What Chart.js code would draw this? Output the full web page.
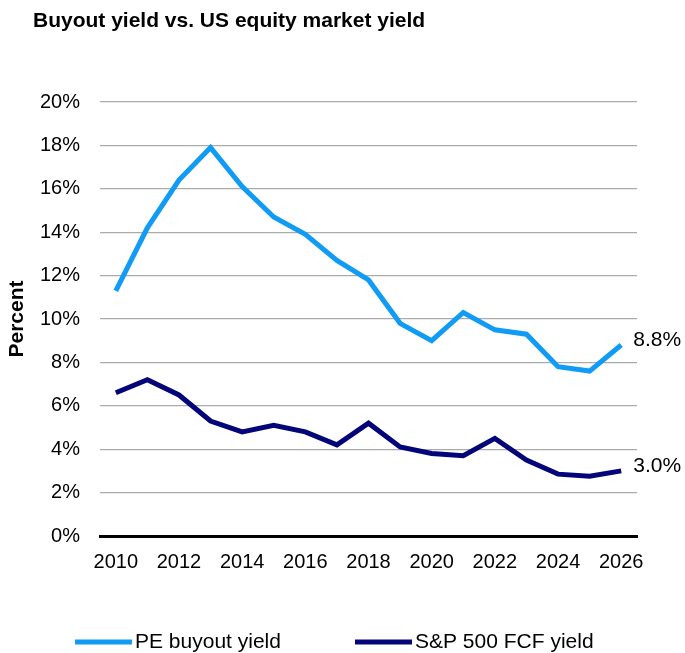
<!DOCTYPE html>
<html>
<head>
<meta charset="utf-8">
<title>Buyout yield vs. US equity market yield</title>
<script src="https://cdn.jsdelivr.net/npm/chart.js@4/dist/chart.umd.min.js"></script>
<style>
  html, body { margin: 0; padding: 0; background: #ffffff; }
  canvas { display: block; }
</style>
</head>
<body>
<canvas id="chart" width="685" height="653"></canvas>
<script>
// Years on the x axis
const years = ['2010','2011','2012','2013','2014','2015','2016','2017','2018',
               '2019','2020','2021','2022','2023','2024','2025','2026'];
// Only every other year gets a tick label
const labelledYears = ['2010','2012','2014','2016','2018','2020','2022','2024','2026'];

// Yields, percent
const peBuyoutYield = [11.3, 14.2, 16.4, 17.9, 16.1, 14.7, 13.9, 12.7, 11.8,
                       9.8, 9.0, 10.3, 9.5, 9.3, 7.8, 7.6, 8.8];
const spFcfYield    = [6.6, 7.2, 6.5, 5.3, 4.8, 5.1, 4.8, 4.2, 5.2,
                       4.1, 3.8, 3.7, 4.5, 3.5, 2.85, 2.75, 3.0];

const seriesNames = ['PE buyout yield', 'S&P 500 FCF yield'];
const seriesColors = ['#109cf4', '#05057a'];

const FONT = '"Liberation Sans", Arial, Helvetica, sans-serif';
Chart.defaults.font.family = FONT;
Chart.defaults.color = '#000000';

// Title, end-of-line value labels and the legend row
const annotations = {
  id: 'annotations',
  afterDraw(chart) {
    const ctx = chart.ctx;
    ctx.save();

    // heading
    ctx.fillStyle = '#000';
    ctx.font = 'bold 21px ' + FONT;
    ctx.textAlign = 'left';
    ctx.textBaseline = 'alphabetic';
    ctx.fillText('Buyout yield vs. US equity market yield', 33, 27);

    // last value of each line
    ctx.font = '21px ' + FONT;
    ctx.textBaseline = 'middle';
    chart.data.datasets.forEach((ds, i) => {
      const meta = chart.getDatasetMeta(i);
      const last = meta.data[meta.data.length - 1];
      const v = ds.data[ds.data.length - 1];
      ctx.fillText(v.toFixed(1) + '%', last.x + 12, last.y - 5);
    });

    // legend
    const legendY = 642;
    const starts = [75, 355];
    chart.data.datasets.forEach((ds, i) => {
      const x0 = starts[i];
      ctx.strokeStyle = ds.borderColor;
      ctx.lineWidth = 5;
      ctx.lineCap = 'butt';
      ctx.beginPath();
      ctx.moveTo(x0, legendY);
      ctx.lineTo(x0 + 57, legendY);
      ctx.stroke();
      ctx.fillStyle = '#000';
      ctx.font = '21px ' + FONT;
      ctx.textBaseline = 'middle';
      ctx.fillText(ds.label, x0 + 60, legendY);
    });

    ctx.restore();
  }
};

new Chart(document.getElementById('chart'), {
  type: 'line',
  data: {
    labels: years,
    datasets: [
      { label: seriesNames[0], data: peBuyoutYield, borderColor: seriesColors[0] },
      { label: seriesNames[1], data: spFcfYield, borderColor: seriesColors[1] }
    ]
  },
  options: {
    responsive: false,
    animation: false,
    devicePixelRatio: 1,
    layout: { padding: { top: 102, right: 48, bottom: 0, left: 0 } },
    elements: {
      line: { borderWidth: 5, tension: 0, fill: false, borderJoinStyle: 'miter', borderCapStyle: 'butt' },
      point: { radius: 0, hoverRadius: 0 }
    },
    plugins: {
      legend: { display: false },
      title: { display: false },
      tooltip: { enabled: false }
    },
    scales: {
      x: {
        type: 'category',
        offset: true,
        grid: { display: false, drawTicks: false },
        border: { display: true, color: '#000000', width: 3 },
        ticks: {
          autoSkip: false,
          maxRotation: 0,
          padding: 14,
          font: { size: 20 },
          callback(value) {
            const y = this.getLabelForValue(value);
            return labelledYears.includes(y) ? y : '';
          }
        },
        afterFit(scale) { scale.height = 117; }
      },
      y: {
        min: 0,
        max: 20,
        grid: { color: '#ababab', lineWidth: 1.3, drawTicks: false },
        border: { display: false },
        ticks: {
          stepSize: 2,
          padding: 20,
          font: { size: 20 },
          callback: (v) => v + '%'
        },
        title: {
          display: true,
          text: 'Percent',
          font: { size: 21, weight: 'bold' },
          padding: { top: 5, bottom: 0 }
        },
        afterFit(scale) { scale.width = 100; }
      }
    }
  },
  plugins: [annotations]
});
</script>
</body>
</html>
